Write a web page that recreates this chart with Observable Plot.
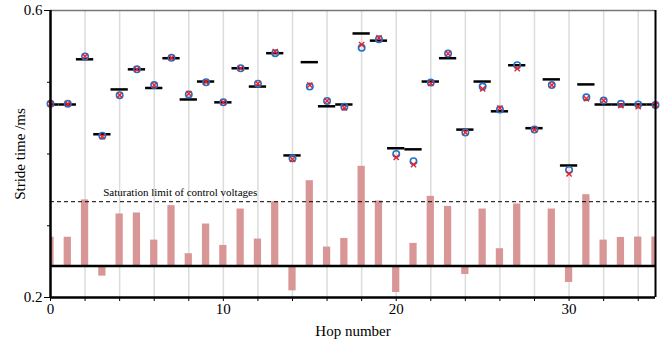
<!DOCTYPE html>
<html>
<head>
<meta charset="utf-8">
<script src="https://cdn.jsdelivr.net/npm/d3@7"></script>
<script src="https://cdn.jsdelivr.net/npm/@observablehq/plot@0.6"></script>
<style>
  html, body { margin: 0; padding: 0; background: #fff; }
  svg { display: block; }
  #chart svg, #chart svg text { font-family: "Liberation Serif", "DejaVu Serif", serif !important; }
</style>
</head>
<body>
<div id="chart"></div>
<script>
const hops = d3.range(0, 36);
const targetTime = [0.469,0.469,0.532,0.4275,0.490,0.518,0.492,0.5335,0.476,0.501,0.472,0.5195,0.494,0.5405,0.398,0.528,0.4665,0.469,0.568,0.558,0.408,0.4065,0.501,0.5335,0.434,0.501,0.4595,0.5237,0.436,0.504,0.384,0.497,0.469,0.469,0.469,0.469];
const measuredA = [0.470,0.470,0.536,0.4256,0.482,0.518,0.496,0.534,0.483,0.500,0.472,0.5195,0.498,0.5405,0.394,0.494,0.474,0.466,0.548,0.560,0.400,0.390,0.4996,0.540,0.430,0.494,0.462,0.5237,0.434,0.496,0.3777,0.479,0.4744,0.470,0.469,0.4684];
const measuredB = [0.470,0.470,0.536,0.4242,0.482,0.518,0.496,0.534,0.484,0.500,0.472,0.5195,0.498,0.5428,0.3925,0.496,0.474,0.4642,0.5526,0.562,0.3953,0.3852,0.4985,0.540,0.430,0.4908,0.464,0.519,0.434,0.496,0.3722,0.4773,0.4744,0.4675,0.466,0.4684];
const controlBar = [0.284,0.284,0.336,0.2298,0.3164,0.3178,0.280,0.328,0.261,0.3024,0.2726,0.3233,0.2815,0.3335,0.2093,0.3628,0.2703,0.2823,0.3828,0.3345,0.207,0.2754,0.341,0.327,0.232,0.3233,0.268,0.3303,0.2419,0.3233,0.2209,0.3433,0.280,0.2837,0.2843,0.2843];
const barBaseline = 0.244;
const saturationLevel = 0.3335;
const saturationText = "Saturation limit of control voltages";
const gridX = d3.range(2, 35, 2);
const xTicks = d3.range(0, 35, 2);
const xTickLabels = {0: "0", 10: "10", 20: "20", 30: "30"};
const yMajorTicks = [0.2, 0.6];
const yMajorLabels = ["0.2", "0.6"];
const yMinorTicks = [0.3, 0.4, 0.5];
const xDomain = [0, 35];
const yDomain = [0.2, 0.6];

const rows = hops.map((h, i) => ({hop: h, target: targetTime[i], a: measuredA[i], b: measuredB[i], bar: controlBar[i]}));
const halfBar = 0.21, halfDash = 0.5;

const chart = Plot.plot({
  width: 663,
  height: 341,
  marginLeft: 50,
  marginRight: 8,
  marginTop: 10,
  marginBottom: 44,
  style: {fontFamily: "'Liberation Serif', 'DejaVu Serif', serif", fontSize: "15px", color: "#000", background: "#fff"},
  x: {domain: xDomain},
  y: {domain: yDomain},
  marks: [
    Plot.ruleX(gridX, {stroke: "#dcdcdc", strokeWidth: 1.5}),
    Plot.rect(rows, {x1: d => d.hop - halfBar, x2: d => d.hop + halfBar, y1: () => barBaseline, y2: "bar", fill: "#d99696", clip: true}),
    Plot.ruleY([barBaseline], {stroke: "#000", strokeWidth: 2.5}),
    Plot.ruleY([saturationLevel], {stroke: "#000", strokeWidth: 1, strokeDasharray: "4,3"}),
    Plot.text([saturationText], {x: 3.05, y: saturationLevel, text: d => d, textAnchor: "start", dy: -9, fontSize: 11, fill: "#000"}),
    Plot.ruleY(rows, {y: "target", x1: d => d.hop - halfDash, x2: d => d.hop + halfDash, stroke: "#000", strokeWidth: 2.5, clip: true}),
    Plot.dot(rows, {x: "hop", y: "a", r: 3.2, stroke: "#1f72c8", strokeWidth: 1.6, fill: "none"}),
    Plot.dot(rows, {x: "hop", y: "b", r: 2.5, symbol: "times", stroke: "#e8202a", strokeWidth: 1.4}),
    Plot.ruleY([yDomain[1]], {stroke: "#777", strokeWidth: 1.5}),
    Plot.ruleX([xDomain[1]], {stroke: "#000", strokeWidth: 2}),
    Plot.ruleX([xDomain[0]], {stroke: "#000", strokeWidth: 2.5}),
    Plot.ruleY([yDomain[0]], {stroke: "#000", strokeWidth: 2.5}),
    Plot.axisX({ticks: xTicks, tickFormat: d => xTickLabels[d] ?? "", tickSize: 4, tickPadding: 2, label: "Hop number", labelAnchor: "center", labelArrow: "none", labelOffset: 38, fontSize: 15}),
    Plot.axisY({ticks: yMajorTicks, tickFormat: (d, i) => yMajorLabels[i], tickSize: 6, tickPadding: 2, label: "Stride time /ms", labelAnchor: "center", labelArrow: "none", labelOffset: 36, fontSize: 15}),
    Plot.axisY({ticks: yMinorTicks, tickFormat: () => "", tickSize: 3, label: null})
  ]
});
document.getElementById("chart").appendChild(chart);
</script>
</body>
</html>
